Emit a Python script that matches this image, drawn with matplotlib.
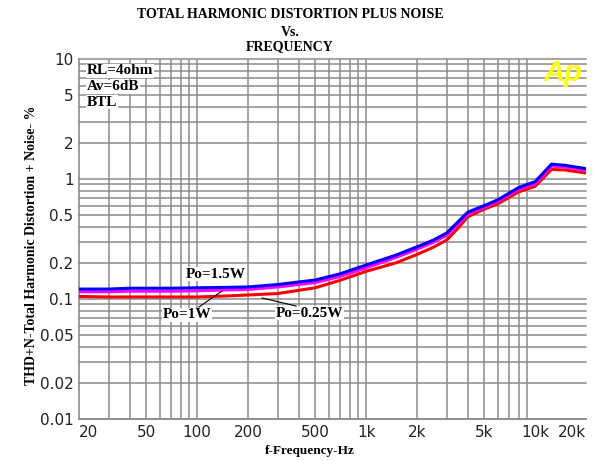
import matplotlib
matplotlib.use("Agg")
import matplotlib.pyplot as plt
from matplotlib.ticker import FixedLocator, NullLocator

# ---- data ----
freqs = [20, 30, 40, 50, 70, 100, 150, 200, 300, 500, 700, 1000, 1500, 2000,
         2500, 3000, 3500, 4000, 5000, 6000, 8000, 10000, 12500, 15000, 20000]
thd_1p5w = [0.121, 0.121, 0.123, 0.123, 0.123, 0.124, 0.125, 0.126, 0.132, 0.144,
            0.162, 0.192, 0.232, 0.272, 0.310, 0.355, 0.440, 0.530, 0.600, 0.670,
            0.850, 0.950, 1.330, 1.300, 1.220]
thd_1w = [0.115, 0.115, 0.116, 0.116, 0.116, 0.117, 0.119, 0.120, 0.126, 0.137,
          0.154, 0.182, 0.222, 0.260, 0.297, 0.340, 0.420, 0.510, 0.580, 0.650,
          0.820, 0.910, 1.280, 1.260, 1.180]
thd_0p25w = [0.105, 0.104, 0.104, 0.104, 0.104, 0.104, 0.106, 0.108, 0.111, 0.124,
             0.143, 0.170, 0.200, 0.235, 0.270, 0.310, 0.390, 0.485, 0.560, 0.620,
             0.780, 0.870, 1.200, 1.190, 1.120]

x_ticks = [20, 50, 100, 200, 500, 1000, 2000, 5000, 10000, 20000]
x_tick_labels = ["20", "50", "100", "200", "500", "1k", "2k", "5k", "10k", "20k"]
y_ticks = [0.01, 0.02, 0.05, 0.1, 0.2, 0.5, 1, 2, 5, 10]
y_tick_labels = ["0.01", "0.02", "0.05", "0.1", "0.2", "0.5", "1", "2", "5", "10"]

serif = "Liberation Serif"
sans = "DejaVu Sans"
grid_c = "#8c8c8c"

fig = plt.figure(figsize=(5.96, 4.61), dpi=100)
fig.patch.set_facecolor("white")
ax = fig.add_axes([79 / 596, 1 - 419 / 461, (586 - 79) / 596, (419 - 59) / 461])
ax.set_xscale("log")
ax.set_yscale("log")
ax.set_xlim(20, 20000)
ax.set_ylim(0.01, 10)

# grid lines
xgrid = [m * 10 ** d for d in (1, 2, 3) for m in range(1, 10)]
xgrid = [v for v in xgrid if 20 < v <= 10000]
ygrid = [m * 10 ** d for d in (-2, -1, 0) for m in range(1, 10)] + [10]
for v in xgrid:
    ax.axvline(v, color=grid_c, lw=1.1, zorder=1)
for v in ygrid:
    ax.axhline(v, color=grid_c, lw=1.1, zorder=1, clip_on=False)

ax.xaxis.set_major_locator(FixedLocator(x_ticks))
ax.xaxis.set_minor_locator(NullLocator())
ax.yaxis.set_major_locator(FixedLocator(y_ticks))
ax.yaxis.set_minor_locator(NullLocator())
ax.set_xticklabels(x_tick_labels, fontfamily=sans, fontsize=11, color="#222222")
ax.set_yticklabels(y_tick_labels, fontfamily=sans, fontsize=11, color="#222222")
ax.tick_params(axis="both", length=0)
ax.tick_params(axis="x", pad=4)
ax.tick_params(axis="y", pad=4)
xl = ax.get_xticklabels()
xl[0].set_horizontalalignment("left")
xl[-1].set_horizontalalignment("right")

for s in ("top", "right"):
    ax.spines[s].set_visible(False)
for s in ("left", "bottom"):
    ax.spines[s].set_color(grid_c)
    ax.spines[s].set_linewidth(1.2)

# curves
ax.plot(freqs, thd_0p25w, color="#ff0000", lw=2.2, zorder=3, solid_joinstyle="miter")
ax.plot(freqs, thd_1w, color="#ff00ff", lw=2.2, zorder=4, solid_joinstyle="miter")
ax.plot(freqs, thd_1p5w, color="#0000ff", lw=2.2, zorder=5, solid_joinstyle="miter")

# annotations
bb = dict(facecolor="white", edgecolor="none", pad=0.5)
tkw = dict(fontfamily=serif, fontweight="bold", fontsize=11, color="black", zorder=6)
fig.text(186 / 596, 1 - 274 / 461, "Po=1.5W", ha="left", va="center", bbox=bb, **tkw)
fig.text(163 / 596, 1 - 315 / 461, "Po=1W", ha="left", va="center", bbox=bb, **tkw)
fig.text(276 / 596, 1 - 313 / 461, "Po=0.25W", ha="left", va="center", bbox=bb, **tkw)
fig.add_artist(plt.Line2D([199 / 596, 222 / 596], [1 - 307 / 461, 1 - 291 / 461],
                          color="black", lw=0.8, zorder=7))
fig.add_artist(plt.Line2D([262 / 596, 296 / 596], [1 - 298 / 461, 1 - 306 / 461],
                          color="black", lw=0.8, zorder=7))

for txt, yy in (("RL=4ohm", 71), ("Av=6dB", 87), ("BTL", 102)):
    fig.text(87 / 596, 1 - yy / 461, txt, ha="left", va="center", bbox=bb, **tkw)

fig.text(544 / 596, 1 - 73 / 461, "Ap", fontfamily="Liberation Sans", fontweight="bold",
         fontstyle="italic", fontsize=21, color="#ffff00", ha="left", va="center",
         zorder=8)

# titles and labels
for txt, yy in (("TOTAL HARMONIC DISTORTION PLUS NOISE", 15),
                ("Vs.", 32), ("FREQUENCY", 47)):
    fig.text(290 / 596, 1 - yy / 461, txt, ha="center", va="center",
             fontfamily=serif, fontweight="bold", fontsize=10)

fig.text(310 / 596, 1 - 451 / 461, "f-Frequency-Hz", ha="center", va="center",
         fontfamily=serif, fontweight="bold", fontsize=9.5)
fig.text(32 / 596, 1 - 245 / 461, "THD+N-Total Harmonic Distortion + Noise- %",
         ha="center", va="center", rotation=90,
         fontfamily=serif, fontweight="bold", fontsize=10)

fig.savefig("out.png", dpi=100, facecolor="white")
